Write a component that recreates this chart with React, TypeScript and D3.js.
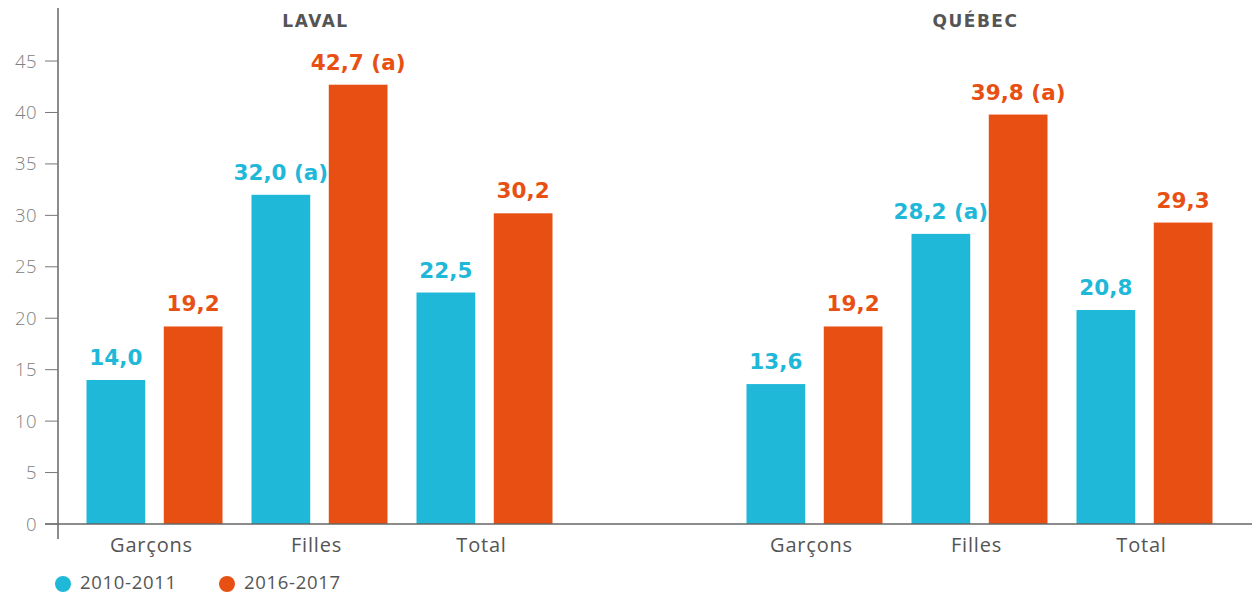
import React from "react";
import * as d3 from "d3";

const regions = ["LAVAL", "QUÉBEC"];
const categories = ["Garçons", "Filles", "Total"];
const seriesNames = ["2010-2011", "2016-2017"];
const laval2010 = [14.0, 32.0, 22.5];
const laval2016 = [19.2, 42.7, 30.2];
const quebec2010 = [13.6, 28.2, 20.8];
const quebec2016 = [19.2, 39.8, 29.3];
const lavalNotes2010 = ["", " (a)", ""];
const lavalNotes2016 = ["", " (a)", ""];
const quebecNotes2010 = ["", " (a)", ""];
const quebecNotes2016 = ["", " (a)", ""];
const yTicks = [0, 5, 10, 15, 20, 25, 30, 35, 40, 45];

const COLORS = ["#1FB8D9", "#E85013"];
const W = 1252;
const H = 594;

export default function App() {
  const slots = ["L0", "L1", "L2", "gap", "Q0", "Q1", "Q2"];
  const x = d3.scaleBand<string>().domain(slots).range([72, 1227]).paddingInner(0).paddingOuter(0);
  const inner = d3.scaleBand<string>().domain(["a", "b"]).range([-68, 68]).paddingInner(0.24);
  const y = d3.scaleLinear().domain([0, 50]).range([524, 9.6]);
  const axisX = 58;

  const groups = [
    { key: "L", title: regions[0], s: [laval2010, laval2016], n: [lavalNotes2010, lavalNotes2016] },
    { key: "Q", title: regions[1], s: [quebec2010, quebec2016], n: [quebecNotes2010, quebecNotes2016] },
  ];
  const fmt = (v: number) => v.toFixed(1).replace(".", ",");
  const center = (k: string) => (x(k) as number) + x.bandwidth() / 2;

  return (
    <div style={{ position: "absolute", left: 0, top: 0 }}>
      <svg width={W} height={H} style={{ display: "block", background: "#fff" }}>
        {groups.map((g) => (
          <g key={g.key}>
            <text
              x={center(g.key + "1") - 4}
              y={27}
              textAnchor="middle"
              fontFamily="'DejaVu Sans', sans-serif"
              fontWeight={700}
              fontSize={17}
              fill="#555"
              letterSpacing={1.5}
            >
              {g.title}
            </text>
            {categories.map((c, i) => {
              const cx = center(g.key + i);
              return (
                <g key={c}>
                  {g.s.map((vals, si) => {
                    const bx = cx + (inner(si === 0 ? "a" : "b") as number);
                    const v = vals[i];
                    return (
                      <g key={si}>
                        <rect x={bx} y={y(v)} width={inner.bandwidth()} height={y(0) - y(v)} fill={COLORS[si]} />
                        <text
                          x={bx + inner.bandwidth() / 2}
                          y={y(v) - 15}
                          textAnchor="middle"
                          fontFamily="'DejaVu Sans', sans-serif"
                          fontWeight={700}
                          fontSize={21.5}
                          fill={COLORS[si]}
                        >
                          {fmt(v) + g.n[si][i]}
                        </text>
                      </g>
                    );
                  })}
                  <text
                    x={cx - 3}
                    y={552}
                    textAnchor="middle"
                    fontFamily="'Open Sans', sans-serif"
                    fontSize={20}
                    letterSpacing={0.8}
                    fill="#555"
                  >
                    {c}
                  </text>
                </g>
              );
            })}
          </g>
        ))}
        {/* axes */}
        <line x1={axisX} x2={axisX} y1={8} y2={539} stroke="#666" strokeWidth={1.5} />
        <line x1={45} x2={W} y1={y(0)} y2={y(0)} stroke="#666" strokeWidth={1.5} />
        {yTicks.map((t) => (
          <g key={t}>
            <line x1={45} x2={axisX} y1={y(t)} y2={y(t)} stroke="#777" strokeWidth={1} />
            <text
              x={37}
              y={y(t) + 6.5}
              textAnchor="end"
              fontFamily="'Open Sans', sans-serif"
              fontWeight={300}
              fontSize={18.5}
              letterSpacing={0.5}
              fill="#808080"
            >
              {t}
            </text>
          </g>
        ))}
        {/* legend */}
        {seriesNames.map((s, i) => {
          const lx = i === 0 ? 63 : 227;
          return (
            <g key={s}>
              <circle cx={lx} cy={584} r={8} fill={COLORS[i]} />
              <text x={lx + 17} y={588.5} fontFamily="'Open Sans', sans-serif" fontSize={18.5} letterSpacing={0.7} fill="#555">
                {s}
              </text>
            </g>
          );
        })}
      </svg>
    </div>
  );
}
